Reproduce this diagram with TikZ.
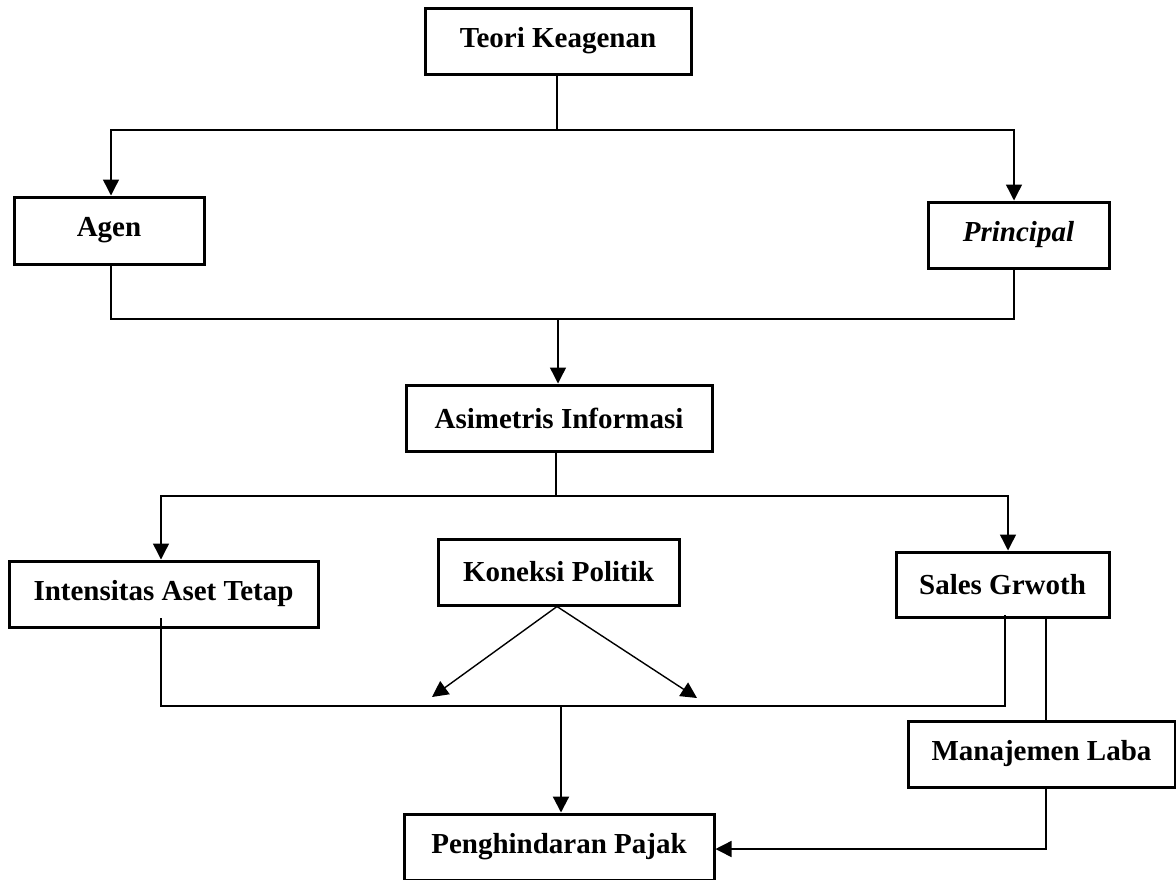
\documentclass[tikz,border=0pt]{standalone}
\usepackage{fontspec}
\setmainfont{Liberation Serif}
\usetikzlibrary{arrows.meta}
\begin{document}
\begin{tikzpicture}[x=1pt,y=-1pt,
  box/.style={draw, line width=3pt, inner sep=0pt, font=\fontsize{29}{34}\selectfont\bfseries},
  conn/.style={line width=1.4pt},
  connb/.style={line width=2.2pt},
  arr/.style={-{Triangle[width=16pt,length=16pt]}}]
\useasboundingbox (0,0) rectangle (1176,879);
% nodes
\node[box, minimum width=266pt, minimum height=66pt] (teori) at (558,41) {Teori Keagenan};
\node[box, minimum width=190pt, minimum height=67pt] (agen) at (109,230.5) {Agen};
\node[box, minimum width=181pt, minimum height=66pt] (principal) at (1018.5,235) {\itshape Principal};
\node[box, minimum width=306pt, minimum height=66pt] (asim) at (559,418) {Asimetris Informasi};
\node[box, minimum width=309pt, minimum height=66pt] (intens) at (163.5,594) {Intensitas Aset Tetap};
\node[box, minimum width=241pt, minimum height=66pt] (kon) at (558.5,572) {Koneksi Politik};
\node[box, minimum width=213pt, minimum height=65pt] (sales) at (1002.5,584.5) {Sales Grwoth};
\node[box, minimum width=267pt, minimum height=66pt] (manaj) at (1041.5,754) {Manajemen Laba};
\node[box, minimum width=310pt, minimum height=66pt] (pengh) at (559,847) {Penghindaran Pajak};
% coordinates
\coordinate (j1) at (557,130);
\coordinate (j2) at (558,319);
\coordinate (j3) at (556,496);
\coordinate (j4) at (561,706);
\coordinate (intStart) at (161,618);
\coordinate (salStart) at (1005,615);
\coordinate (kL) at (432,697);
\coordinate (kR) at (697,698);
% Teori -> Agen / Principal
\draw[conn] ([xshift=-1pt]teori.south) -- (j1);
\draw[conn, arr] (j1) -| ([xshift=2pt]agen.north);
\draw[conn, arr] (j1) -| ([xshift=-4.5pt]principal.north);
% Agen / Principal -> Asimetris
\draw[conn] ([xshift=2pt]agen.south) |- (j2) -| ([xshift=-4.5pt]principal.south);
\draw[conn, arr] (j2) -- ([xshift=-1pt]asim.north);
% Asimetris -> Intensitas / Sales
\draw[connb] ([xshift=-3pt]asim.south) -- (j3);
\draw[conn, arr] (j3) -| ([xshift=-2.5pt]intens.north);
\draw[conn, arr] (j3) -| ([xshift=5.5pt]sales.north);
% Koneksi arrows
\draw[conn, arr] ([xshift=-1.5pt]kon.south) -- (kL);
\draw[conn, arr] ([xshift=-1.5pt]kon.south) -- (kR);
% Intensitas / Sales -> Penghindaran
\draw[conn] (intStart) |- (j4) -| (salStart);
\draw[connb, arr] (j4) -- ([xshift=2pt]pengh.north);
% Sales -> Manajemen -> Penghindaran
\draw[conn] ([xshift=43.5pt]sales.south) -- ([xshift=4.5pt]manaj.north);
\draw[conn, arr] ([xshift=4.5pt]manaj.south) |- ([yshift=-2pt]pengh.east);
\end{tikzpicture}
\end{document}
